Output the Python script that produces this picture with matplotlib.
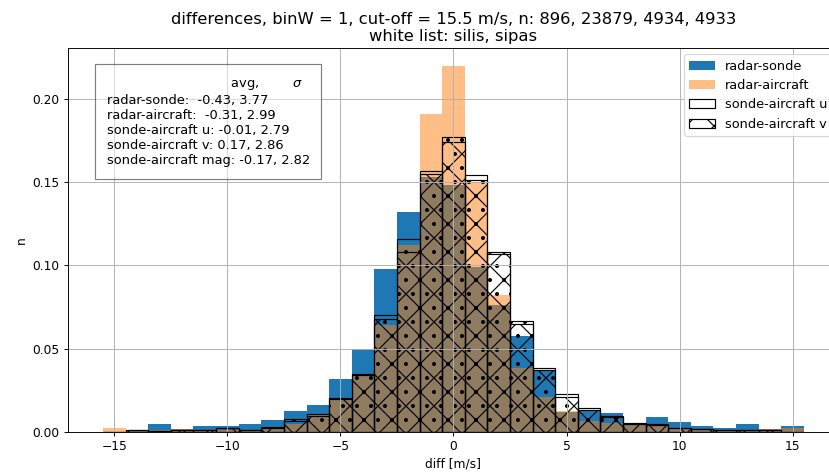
import matplotlib
matplotlib.use('Agg')
import matplotlib.pyplot as plt
import numpy as np

# bin centres (binW = 1, cut-off 15.5 m/s)
bin_centers = [-15, -14, -13, -12, -11, -10, -9, -8, -7, -6, -5, -4, -3, -2, -1, 0,
               1, 2, 3, 4, 5, 6, 7, 8, 9, 10, 11, 12, 13, 14, 15]

# normalised counts
radar_sonde = [0.0, 0.0015, 0.005, 0.0017, 0.0036, 0.0036, 0.005, 0.0072, 0.0127, 0.0161,
               0.0317, 0.050, 0.098, 0.132, 0.153, 0.148, 0.099, 0.0765, 0.0574, 0.037,
               0.012, 0.013, 0.0112, 0.005, 0.0092, 0.0058, 0.0036, 0.0022, 0.005, 0.0017, 0.0036]
radar_aircraft = [0.0022, 0.0015, 0.001, 0.0017, 0.001, 0.001, 0.0015, 0.002, 0.005, 0.0105,
                  0.019, 0.034, 0.064, 0.112, 0.191, 0.2195, 0.150, 0.0825, 0.0385, 0.021,
                  0.0125, 0.0065, 0.0056, 0.004, 0.004, 0.0022, 0.0015, 0.001, 0.0012, 0.0017, 0.0026]
sonde_aircraft_u = [0.0, 0.001, 0.0005, 0.001, 0.001, 0.0026, 0.0015, 0.003, 0.0076, 0.0107,
                    0.0207, 0.035, 0.070, 0.116, 0.1566, 0.177, 0.154, 0.108, 0.0665, 0.0383,
                    0.0227, 0.0147, 0.0096, 0.0052, 0.0046, 0.0026, 0.002, 0.001, 0.0015, 0.0012, 0.0]
sonde_aircraft_v = [0.0, 0.001, 0.0005, 0.001, 0.001, 0.0022, 0.0015, 0.0026, 0.0066, 0.0097,
                    0.0197, 0.034, 0.068, 0.108, 0.155, 0.174, 0.151, 0.1066, 0.065, 0.037,
                    0.021, 0.0133, 0.009, 0.005, 0.0042, 0.0024, 0.0018, 0.001, 0.0015, 0.001, 0.0]

stats_text = ('                              avg,        $\\sigma$\n'
              'radar-sonde:  -0.43, 3.77\n'
              'radar-aircraft:  -0.31, 2.99\n'
              'sonde-aircraft u: -0.01, 2.79\n'
              'sonde-aircraft v: 0.17, 2.86\n'
              'sonde-aircraft mag: -0.17, 2.82')

plt.rcParams['font.size'] = 10.5

dpi = 84
fig = plt.figure(figsize=(829 / dpi, 475 / dpi), dpi=dpi)
ax = fig.add_axes([0.082, 0.0905, 1.012 - 0.082, 0.899 - 0.0905])

ax.bar(bin_centers, radar_sonde, width=1, color='tab:blue', label='radar-sonde')
ax.bar(bin_centers, radar_aircraft, width=1, color='tab:orange', alpha=0.5, label='radar-aircraft')
ax.bar(bin_centers, sonde_aircraft_u, width=1, fill=False, hatch='.', edgecolor='k',
       label='sonde-aircraft u')
ax.bar(bin_centers, sonde_aircraft_v, width=1, fill=False, hatch='x', edgecolor='k',
       label='sonde-aircraft v')

ax.text(0.05, 0.922, stats_text, transform=ax.transAxes, va='top', ha='left', fontsize=11.2,
        linespacing=1.2, bbox=dict(facecolor='white', alpha=0.5, pad=10))

ax.set_title('differences, binW = 1, cut-off = 15.5 m/s, n: 896, 23879, 4934, 4933\n'
             'white list: silis, sipas', fontsize=14)
ax.set_xlabel('diff [m/s]')
ax.set_ylabel('n')
ax.grid(True)
ax.legend(loc='upper right', fontsize=11)

fig.savefig('out.png', dpi=dpi)
